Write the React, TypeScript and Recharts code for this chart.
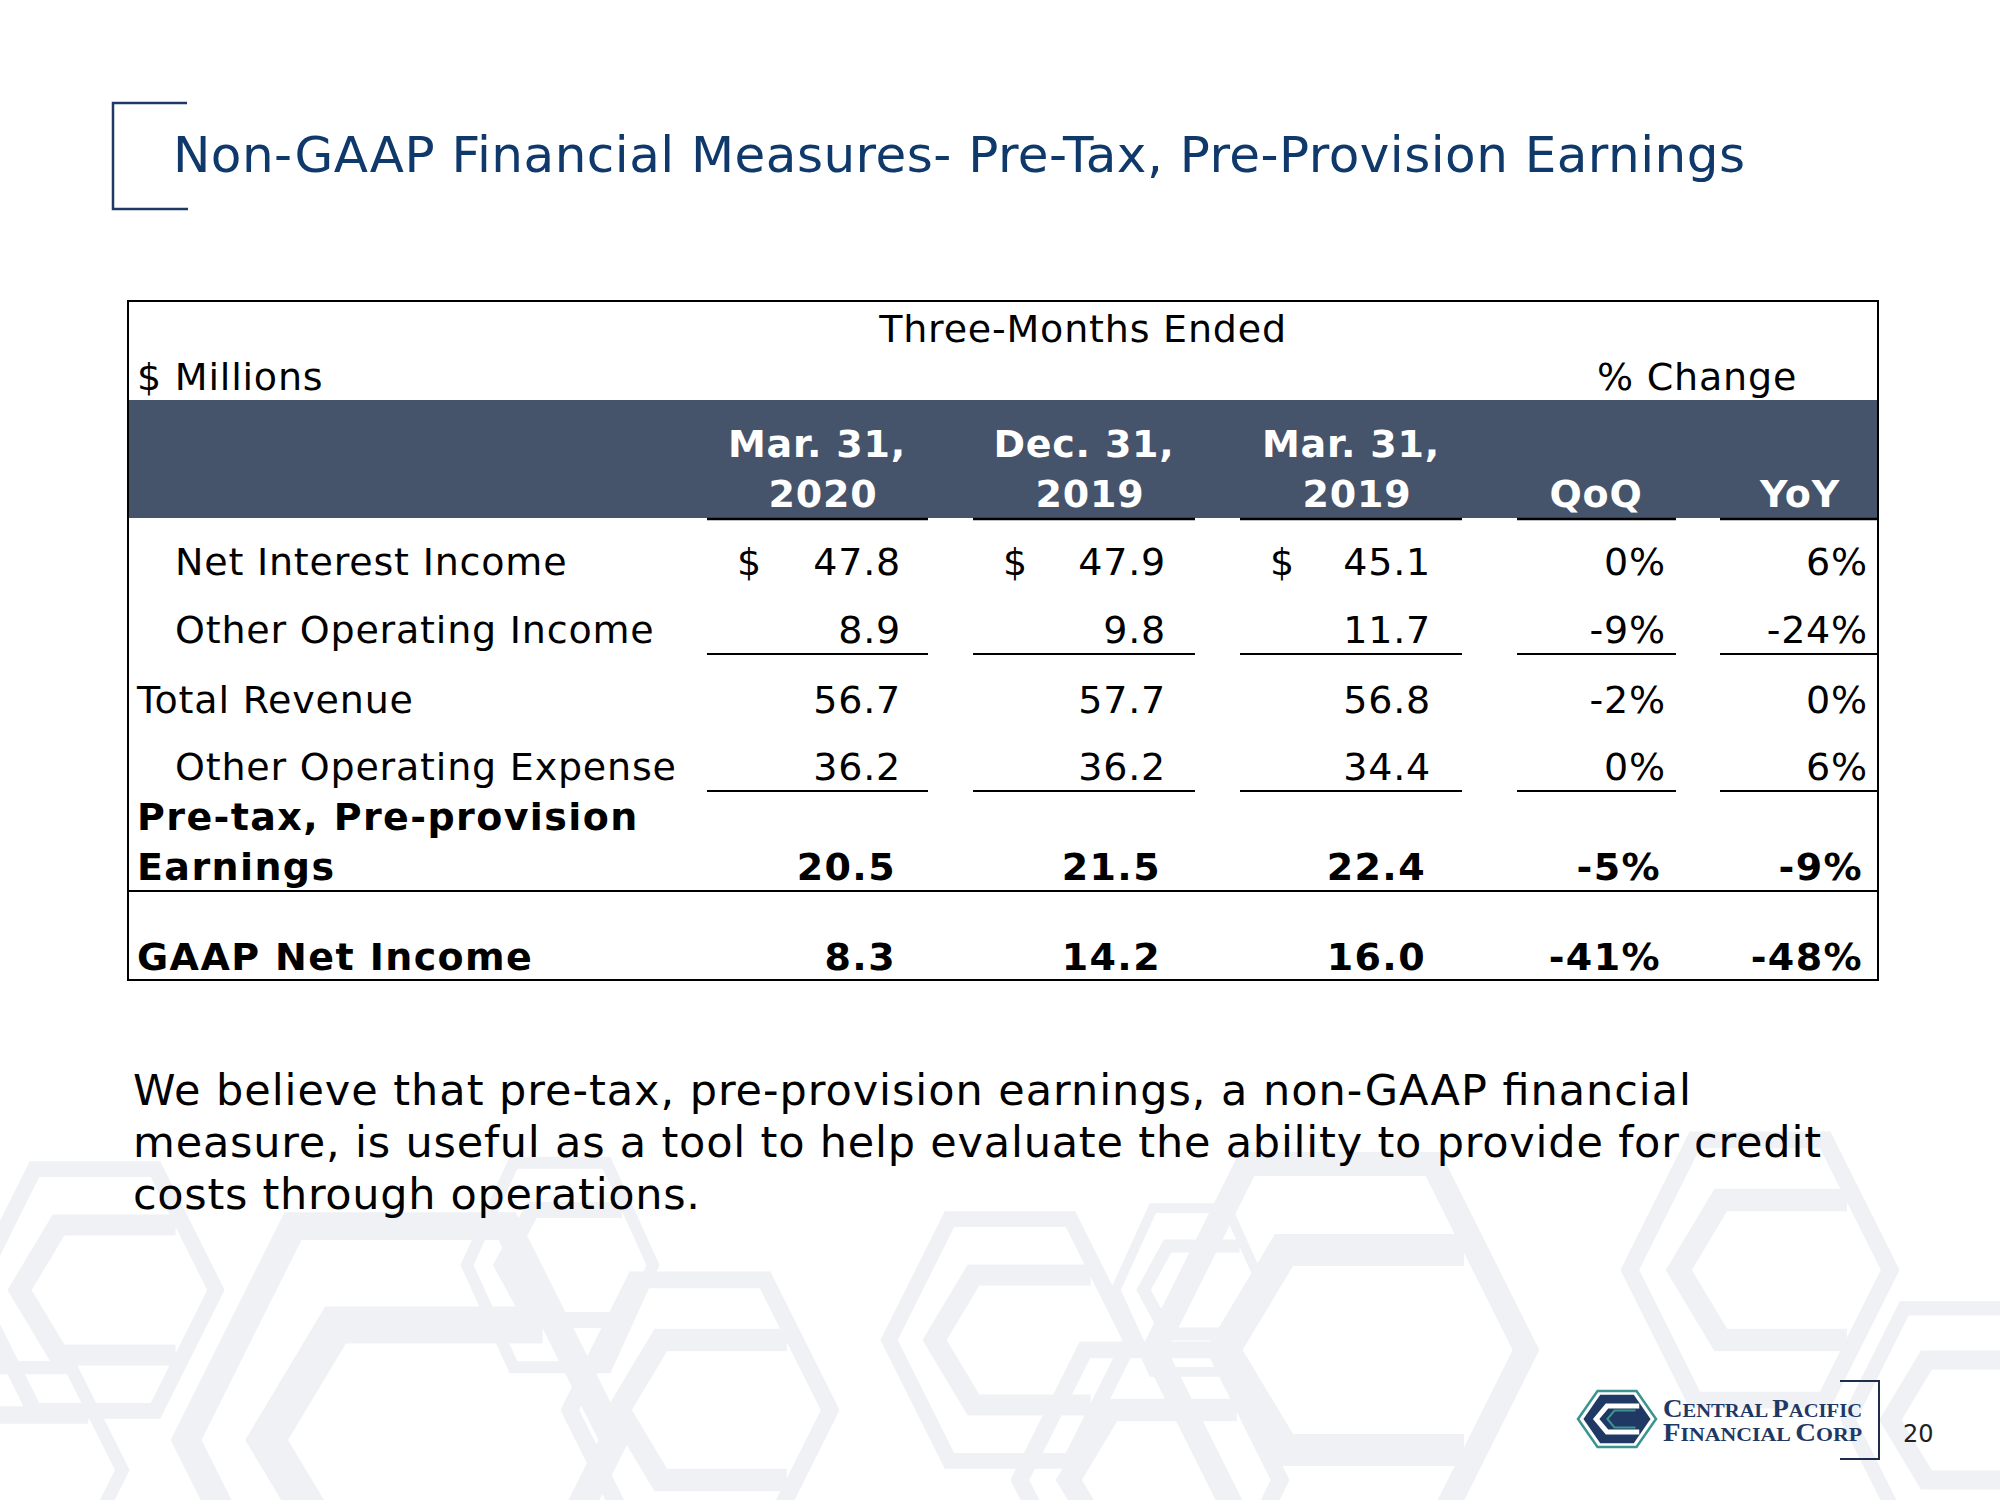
import { Layer, Rectangle, Surface } from "recharts";

// ---- data ----
const title = "Non-GAAP Financial Measures- Pre-Tax, Pre-Provision Earnings";
const unitLabel = "$ Millions";
const periodGroupLabel = "Three-Months Ended";
const changeGroupLabel = "% Change";
const periodHeaders = [
  ["Mar. 31,", "2020"],
  ["Dec. 31,", "2019"],
  ["Mar. 31,", "2019"]
];
const changeHeaders = ["QoQ", "YoY"];
const rowLabels = [
  "Net Interest Income",
  "Other Operating Income",
  "Total Revenue",
  "Other Operating Expense",
  "Pre-tax, Pre-provision\nEarnings",
  "GAAP Net Income"
];
const mar2020 = [47.8, 8.9, 56.7, 36.2, 20.5, 8.3];
const dec2019 = [47.9, 9.8, 57.7, 36.2, 21.5, 14.2];
const mar2019 = [45.1, 11.7, 56.8, 34.4, 22.4, 16.0];
const qoq = [0, -9, -2, 0, -5, -41];
const yoy = [6, -24, 0, 6, -9, -48];
const noteLines = [
  "We believe that pre-tax, pre-provision earnings, a non-GAAP financial",
  "measure, is useful as a tool to help evaluate the ability to provide for credit",
  "costs through operations."
];
const companyLines = [
  ["C", "ENTRAL ", "P", "ACIFIC"],
  ["F", "INANCIAL ", "C", "ORP"]
];
const pageNumber = "20";

// ---- layout ----
const FONT = "'DejaVu Sans', Verdana, sans-serif";
const NAVY = "#0f396b";
const BAND = "#46546b";
const PATTERN = "#eff1f5";

const tableLeft = 128;
const tableRight = 1878;
const tableTop = 301;
const tableBottom = 980;
const bandTop = 400;
const bandBottom = 518;

const rowBaselines = [575, 643, 713, 780, 880, 970];
const rowIndented = [true, true, false, true, false, false];
const rowBold = [false, false, false, false, true, true];
const rowUnderlined = [false, true, false, true, false, false];
const rowDollar = [true, false, false, false, false, false];

const valueCols = [
  { right: 901, dollar: 737, from: 707, to: 928, center: 817 },
  { right: 1166, dollar: 1003, from: 973, to: 1195, center: 1084 },
  { right: 1431, dollar: 1270, from: 1240, to: 1462, center: 1351 }
];
const changeCols = [
  { right: 1666, from: 1517, to: 1676, center: 1596 },
  { right: 1868, from: 1720, to: 1878, center: 1800 }
];
const allSegments = [...valueCols, ...changeCols];

const hex = (cx: number, cy: number, r: number, k = 0.72) => {
  const h = r * k;
  return [
    [cx - r, cy],
    [cx - r / 2, cy - h],
    [cx + r / 2, cy - h],
    [cx + r, cy],
    [cx + r / 2, cy + h],
    [cx - r / 2, cy + h]
  ]
    .map((p) => p.join(","))
    .join(" ");
};

const chevron = (cx: number, cy: number, r: number, k = 0.72) => {
  const h = r * k;
  return [
    [cx + r * 0.62, cy - h * 0.5],
    [cx - r * 0.28, cy - h * 0.5],
    [cx - r * 0.58, cy],
    [cx - r * 0.28, cy + h * 0.5],
    [cx + r * 0.62, cy + h * 0.5]
  ]
    .map((p) => p.join(","))
    .join(" ");
};

const patternShapes = [
  { cx: 95, cy: 1290, r: 130, k: 1.0 },
  { cx: 400, cy: 1440, r: 230, k: 1.0 },
  { cx: 560, cy: 1265, r: 100, k: 1.1 },
  { cx: 700, cy: 1410, r: 140, k: 1.0 },
  { cx: 1010, cy: 1340, r: 130, k: 1.0 },
  { cx: 1190, cy: 1290, r: 80, k: 1.1 },
  { cx: 1340, cy: 1350, r: 200, k: 1.0 },
  { cx: 1150, cy: 1480, r: 140, k: 1.0 },
  { cx: 1760, cy: 1270, r: 140, k: 1.0 },
  { cx: 1960, cy: 1420, r: 120, k: 1.0 },
  { cx: 20, cy: 1470, r: 110, k: 1.0 }
];

function PatternShape({ cx, cy, r, k }: { cx: number; cy: number; r: number; k: number }) {
  return (
    <g fill="none" stroke={PATTERN}>
      <polygon points={hex(cx, cy, r * 0.93, k)} strokeWidth={r * 0.12} />
      <polyline points={chevron(cx, cy, r, k)} strokeLinejoin="miter" strokeWidth={r * 0.16} />
    </g>
  );
}

function Logo() {
  const cx = 1617;
  const cy = 1419;
  const r = 39;
  return (
    <Layer className="logo">
      <polygon fill="#fff" points={hex(cx, cy, r)} stroke="#3b948e" strokeWidth={2.5} />
      <polygon fill="#1f3864" points={hex(cx, cy, r * 0.86)} />
      <polyline fill="none" points={chevron(cx, cy, r * 0.92)} stroke="#fff" strokeWidth={5} />
      <polyline fill="none" points={chevron(cx + 4, cy, r * 0.6)} stroke="#3b948e" strokeWidth={2} />
      {companyLines.map((parts, i) => (
        <text
          fill="#1f3864"
          fontFamily="'Liberation Serif', serif"
          fontWeight={700}
          key={i}
          lengthAdjust="spacingAndGlyphs"
          textLength={199}
          x={1663}
          y={i === 0 ? 1417 : 1441}
        >
          {parts.map((p, j) => (
            <tspan fontSize={j % 2 === 0 ? 25 : 19} key={j}>
              {p}
            </tspan>
          ))}
        </text>
      ))}
    </Layer>
  );
}

const fmtValue = (v: number) => v.toFixed(1);
const fmtPct = (v: number) => `${v}%`;

export default function App() {
  const series = [mar2020, dec2019, mar2019];
  const changes = [qoq, yoy];

  return (
    <div style={{ position: "absolute", left: 0, top: 0, width: 2000, height: 1500, background: "#fff" }}>
      <Surface height={1500} width={2000}>
        {/* background pattern */}
        <Layer>
          {patternShapes.map((s, i) => (
            <PatternShape key={i} {...s} />
          ))}
        </Layer>

        {/* title */}
        <polyline fill="none" points="187,103 113,103 113,209 188,209" stroke="#1f3864" strokeWidth={2.5} />
        <text
          fill={NAVY}
          fontFamily={FONT}
          fontSize={50}
          lengthAdjust="spacing"
          textLength={1572}
          x={173}
          y={172}
        >
          {title}
        </text>

        {/* table */}
        <Layer fontFamily={FONT} fontSize={38} letterSpacing={0.8}>
          <Rectangle fill={BAND} height={bandBottom - bandTop} width={tableRight - tableLeft} x={tableLeft} y={bandTop} />
          <text fill="#000" textAnchor="middle" x={1083} y={342}>
            {periodGroupLabel}
          </text>
          <text fill="#000" x={137} y={390}>
            {unitLabel}
          </text>
          <text fill="#000" x={1597} y={390}>
            {changeGroupLabel}
          </text>

          {periodHeaders.map((lines, i) => (
            <g fill="#fff" fontWeight={700} key={i} textAnchor="middle">
              <text x={valueCols[i].center} y={457}>
                {lines[0]}
              </text>
              <text x={valueCols[i].center + 6} y={507}>
                {lines[1]}
              </text>
            </g>
          ))}
          {changeHeaders.map((h, i) => (
            <text fill="#fff" fontWeight={700} key={h} textAnchor="middle" x={changeCols[i].center} y={507}>
              {h}
            </text>
          ))}

          {/* column rules under header */}
          {allSegments.map((c, i) => (
            <line key={`h${i}`} stroke="#000" strokeWidth={2.5} x1={c.from} x2={c.to} y1={519} y2={519} />
          ))}

          {rowLabels.map((label, r) => {
            const y = rowBaselines[r];
            const lines = label.split("\n");
            const weight = rowBold[r] ? 700 : 400;
            const shift = rowBold[r] ? 5 : 0;
            return (
              <g fill="#000" fontWeight={weight} key={label} letterSpacing={rowBold[r] ? 1.4 : 0.8}>
                {lines.map((ln, k) => (
                  <text key={k} x={rowIndented[r] ? 175 : 137} y={y - (lines.length - 1 - k) * 50}>
                    {ln}
                  </text>
                ))}
                {series.map((s, c) => (
                  <g key={c}>
                    {rowDollar[r] && (
                      <text x={valueCols[c].dollar} y={y}>
                        $
                      </text>
                    )}
                    <text textAnchor="end" x={valueCols[c].right - shift} y={y}>
                      {fmtValue(s[r])}
                    </text>
                  </g>
                ))}
                {changes.map((s, c) => (
                  <text key={`p${c}`} textAnchor="end" x={changeCols[c].right - shift} y={y}>
                    {fmtPct(s[r])}
                  </text>
                ))}
                {rowUnderlined[r] &&
                  allSegments.map((c, i) => (
                    <line key={`u${i}`} stroke="#000" strokeWidth={2} x1={c.from} x2={c.to} y1={y + 11} y2={y + 11} />
                  ))}
              </g>
            );
          })}

          <line stroke="#000" strokeWidth={2} x1={tableLeft} x2={tableRight} y1={891} y2={891} />
          <rect
            fill="none"
            height={tableBottom - tableTop}
            stroke="#000"
            strokeWidth={2}
            width={tableRight - tableLeft}
            x={tableLeft}
            y={tableTop}
          />
        </Layer>

        {/* note */}
        <Layer fill="#000" fontFamily={FONT} fontSize={43}>
          {noteLines.map((ln, i) => (
            <text
              key={i}
              lengthAdjust="spacing"
              textLength={[1558, 1688, 567][i]}
              x={133}
              y={1105 + i * 52}
            >
              {ln}
            </text>
          ))}
        </Layer>

        {/* footer */}
        <Logo />
        <polyline fill="none" points="1840,1381 1879,1381 1879,1459 1840,1459" stroke="#1f2d4a" strokeWidth={2} />
        <text fill="#222" fontFamily={FONT} fontSize={24} x={1903} y={1442}>
          {pageNumber}
        </text>
      </Surface>
    </div>
  );
}
